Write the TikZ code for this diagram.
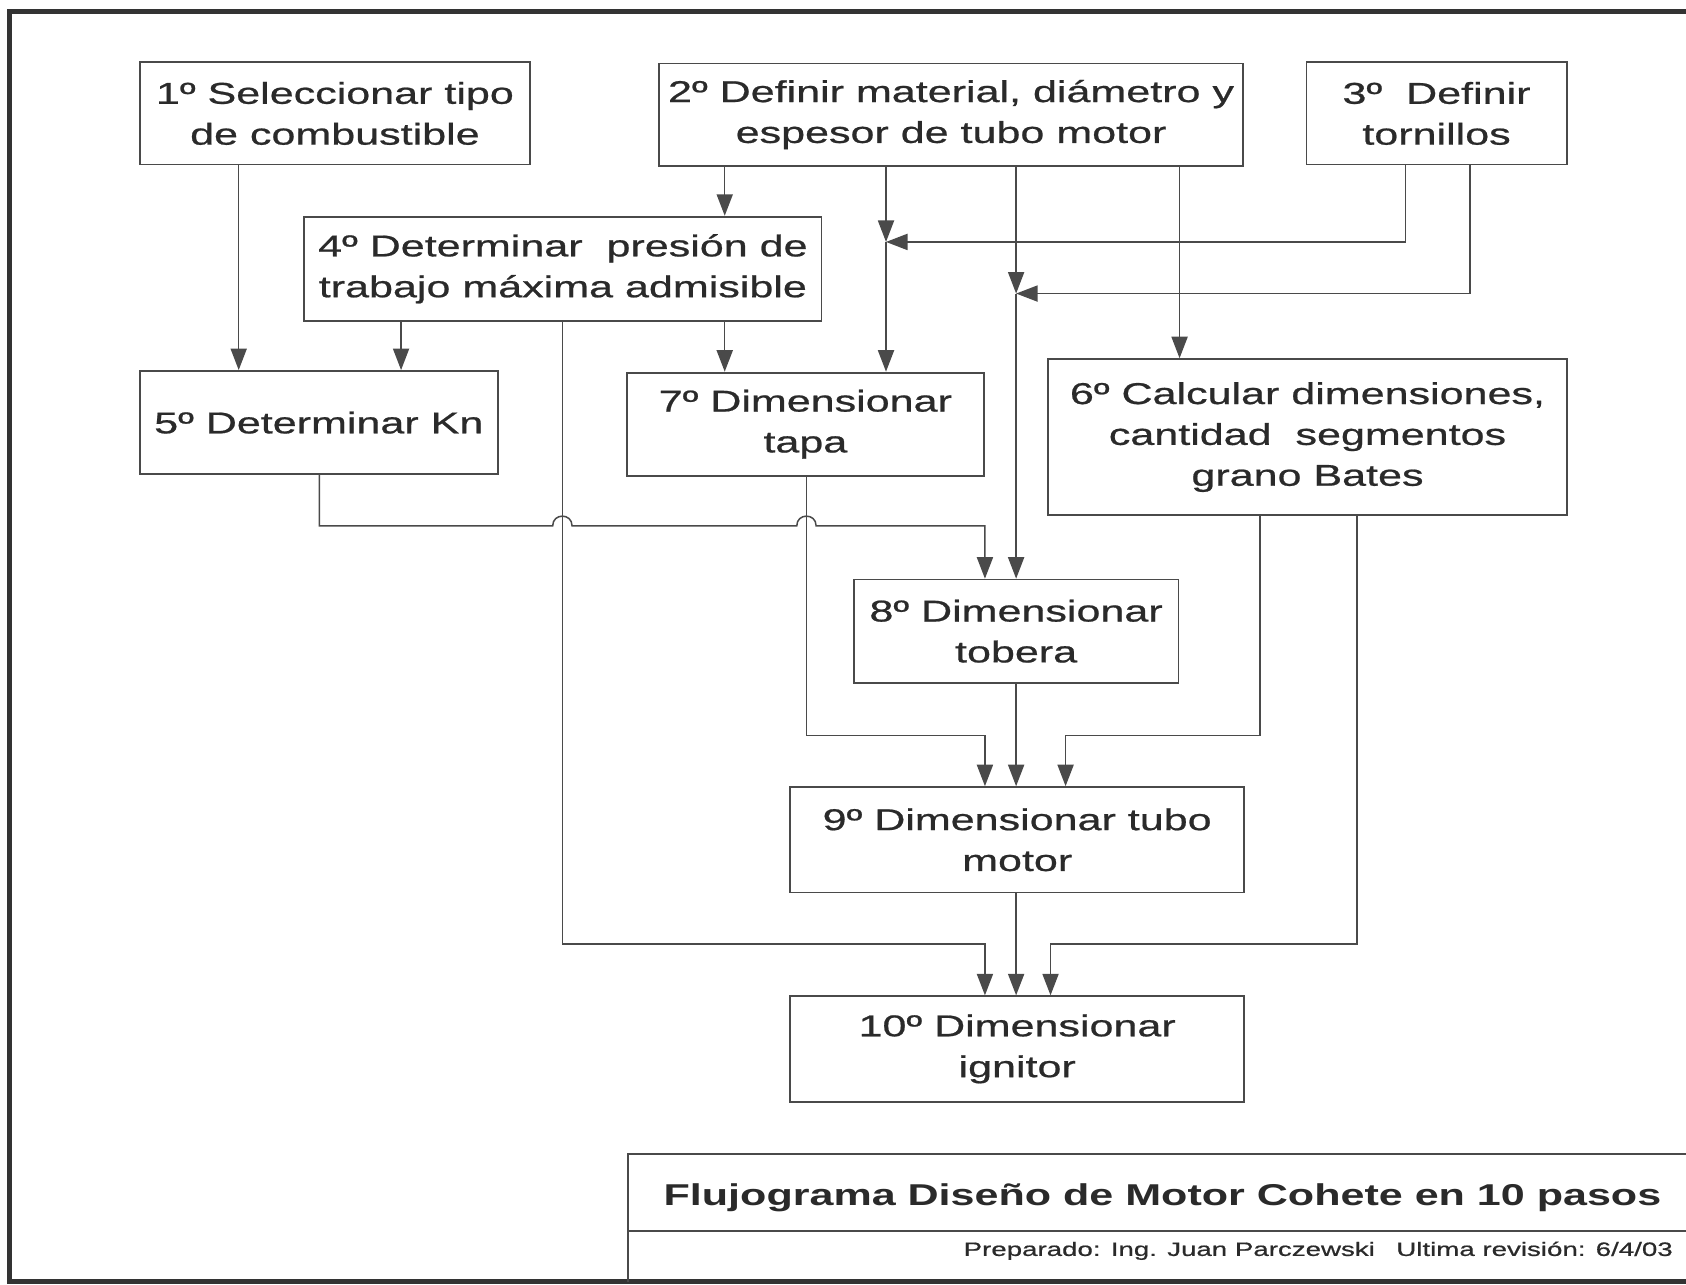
\documentclass[tikz,border=0pt]{standalone}
\usepackage{fontspec}
\setmainfont{Liberation Sans}[FakeStretch=1.43, UprightFeatures={FakeBold=0.7}]
\usetikzlibrary{arrows.meta}
\definecolor{tc}{HTML}{2A2A2A}
\definecolor{lc}{HTML}{4A4A4A}
\definecolor{fc}{HTML}{333333}
\tikzset{
  box/.style={draw=lc, line width=1.7pt, inner sep=0pt, align=center, text=tc,
    font=\fontsize{28}{38}\selectfont},
  con/.style={draw=lc, line width=1.4pt},
  arr/.style={con, -{Triangle[length=20pt,width=15pt]}},
  frame/.style={draw=fc, line width=4.5pt},
  label/.style={inner sep=0pt, text=tc, anchor=base west},
}
\begin{document}
\begin{tikzpicture}[x=1pt,y=-1pt]
\useasboundingbox (0,0) rectangle (1568,1195);
\clip (0,0) rectangle (1568,1195);
\fill[white] (0,0) rectangle (1568,1195);

% outer frame
\draw[frame] (1620,11) -- (9,11) -- (9,1192) -- (1620,1192);

% boxes
\node[box, minimum width=363, minimum height=95] (b1) at (311.5,105.5) {1º Seleccionar tipo\\de combustible};
\node[box, minimum width=543, minimum height=95] (b2) at (884.5,106.5) {2º Definir material, diámetro y\\espesor de tubo motor};
\node[box, minimum width=242, minimum height=95] (b3) at (1336,105.5) {3º\ \ Definir\\tornillos};
\node[box, minimum width=481, minimum height=97] (b4) at (523.5,250) {4º Determinar\ \ presión de\\trabajo máxima admisible};
\node[box, minimum width=333, minimum height=96] (b5) at (296.5,393) {5º Determinar Kn};
\node[box, minimum width=332, minimum height=96] (b7) at (749,394.5) {7º Dimensionar\\tapa};
\node[box, minimum width=482, minimum height=145] (b6) at (1216,406.5) {6º Calcular dimensiones,\\cantidad\ \ segmentos\\grano Bates};
\node[box, minimum width=302, minimum height=96] (b8) at (945,587) {8º Dimensionar\\tobera};
\node[box, minimum width=422, minimum height=98] (b9) at (946,781) {9º Dimensionar tubo\\motor};
\node[box, minimum width=422, minimum height=98] (b10) at (946,975.5) {10º Dimensionar\\ignitor};

% junctions
\coordinate (j1) at (824,225);
\coordinate (j2) at (945,273);

% connectors
\draw[arr] (222,0 |- b1.south) -- (222,0 |- b5.north);
\draw[arr] (674,0 |- b2.south) -- (674,0 |- b4.north);
\draw[arr] (373,0 |- b4.south) -- (373,0 |- b5.north);
\draw[arr] (674,0 |- b4.south) -- (674,0 |- b7.north);
\draw[arr] (j1 |- b2.south) -- (j1);
\draw[arr] (1307,0 |- b3.south) |- (j1);
\draw[arr] (j1) -- (j1 |- b7.north);
\draw[arr] (j2 |- b2.south) -- (j2);
\draw[arr] (1367,0 |- b3.south) |- (j2);
\draw[arr] (j2) -- (j2 |- b8.north);
\draw[arr] (1097,0 |- b2.south) -- (1097,0 |- b6.north);
\draw[arr] (297,0 |- b5.south) -- (297,489) -- (514,489)
  .. controls (514,477) and (532,477) .. (532,489) -- (741,489)
  .. controls (741,477) and (759,477) .. (759,489) -- (916,489) -- (916,0 |- b8.north);
\draw[arr] (750,0 |- b7.south) |- (916,684) -- (916,0 |- b9.north);
\draw[arr] (945,0 |- b8.south) -- (945,0 |- b9.north);
\draw[arr] (1172,0 |- b6.south) |- (991,684) -- (991,0 |- b9.north);
\draw[arr] (945,0 |- b9.south) -- (945,0 |- b10.north);
\draw[arr] (523,0 |- b4.south) |- (916,878) -- (916,0 |- b10.north);
\draw[arr] (1262,0 |- b6.south) |- (977,878) -- (977,0 |- b10.north);

% title block
\draw[con] (1620,1073) -- (584,1073) -- (584,1192);
\draw[con] (584,1145) -- (1620,1145);
\node[label, font=\bfseries\fontsize{28}{34}\selectfont] (title) at (617,1121) {Flujograma Diseño de Motor Cohete en 10 pasos};
\node[label, font=\fontsize{18}{22}\selectfont] (sub) at (896,1168) {Preparado: Ing. Juan Parczewski\hspace{20pt}Ultima revisión: 6/4/03};
\end{tikzpicture}
\end{document}
